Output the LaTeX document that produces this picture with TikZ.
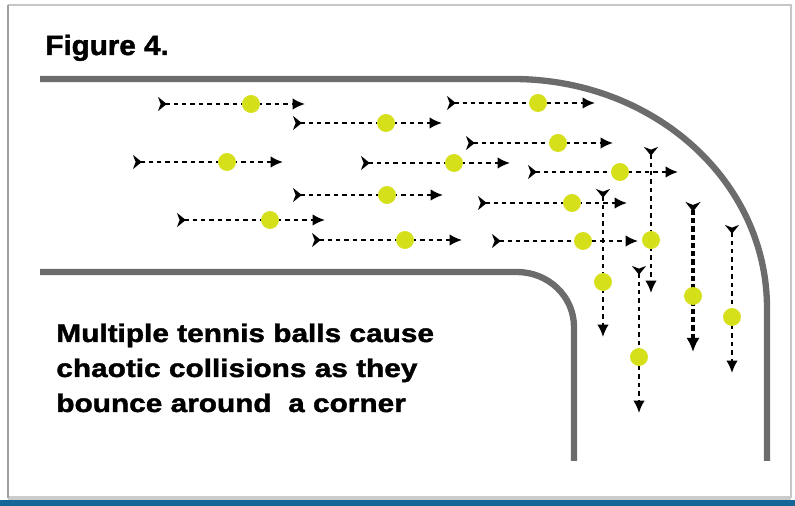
\documentclass[tikz,border=0pt]{standalone}
\usepackage{fontspec}
\setmainfont{Liberation Sans}
\newfontfamily\headfont{Liberation Sans Bold}[FakeStretch=1.06,FakeBold=1.6]
\newfontfamily\notefont{Liberation Sans Bold}[FakeStretch=1.17,FakeBold=1.6]
\usetikzlibrary{arrows.meta}
\definecolor{wallgray}{RGB}{108,108,108}
\definecolor{ballyellow}{RGB}{214,224,26}
\definecolor{bandblue}{RGB}{22,102,152}

\begin{document}
\begin{tikzpicture}[x=0.02cm,y=-0.02cm,wall/.style={line width=3.6pt,draw=wallgray},track/.style={line width=1.1pt,dash pattern=on 2.5pt off 2.3pt,{Stealth[length=5pt,width=8pt,inset=1.5pt,reversed]}-{Latex[length=7pt,width=6.5pt]}},heavytrack/.style={line width=2pt,dash pattern=on 3pt off 1.7pt,{Stealth[length=5.5pt,width=8.5pt,inset=1.7pt,reversed]}-{Latex[length=8pt,width=7.5pt]}},ball/.style={circle,fill=ballyellow,minimum size=10.2pt,inner sep=0pt},note/.style={font=\notefont\fontsize{14.5}{19.8}\selectfont,anchor=base west,inner sep=0pt}]
\useasboundingbox (0,0) rectangle (795,506);
% frame and blue band
\fill[bandblue] (0,500) rectangle (795,506);
\draw[gray!45,line width=0.6pt] (8,5) -- (791,5) -- (791,498); \draw[gray!40,line width=2pt] (8,498) -- (791,498); \draw[gray!75,line width=0.8pt] (8,5) -- (8,498);
\node[font=\headfont\fontsize{15.9}{19}\selectfont,anchor=base west,inner sep=0pt] (title) at (45,55) {Figure 4.};
% corridor walls
\draw[wall] (40,79) -- (513,79) .. controls (654,79) and (767,181) .. (767,308) -- (767,461);
\draw[wall] (40,272) -- (517,272) .. controls (548,272) and (574,296) .. (574,327) -- (574,461);
% balls moving right
\foreach \n/\y/\xt/\xb/\xh in {1/104/158/251/305,2/123/293/386/442,3/103/447/538/595,4/143/466/558/613,5/162/133/227/283,6/163/361/454/510,7/172/528/620/678,8/195/293/387/443,9/203/478/572/627,10/220/177/270/325,11/240/312/405/462,12/241/492/583/638} {\coordinate (t\n) at (\xt,\y); \coordinate (h\n) at (\xh,\y); \draw[track] (t\n) -- (h\n); \node[ball] (b\n) at (\xb,\y) {};}
% balls moving down
\foreach \n/\x/\yt/\yb/\yh/\sty in {a/603/189/282/337/track,b/651/147/240/293/track,c/639/266/357/413/track,d/693/202/296/352/heavytrack,e/732/225/317/373/track} {\coordinate (t\n) at (\x,\yt); \coordinate (h\n) at (\x,\yh); \draw[\sty] (t\n) -- (h\n); \node[ball] (b\n) at (\x,\yb) {};}
\foreach \i/\yl/\txt in {1/342/Multiple tennis balls cause,2/377/chaotic collisions as they,3/412/bounce around\ \ a corner} {\node[note] (line\i) at (56,\yl) {\txt};}
\end{tikzpicture}
\end{document}
